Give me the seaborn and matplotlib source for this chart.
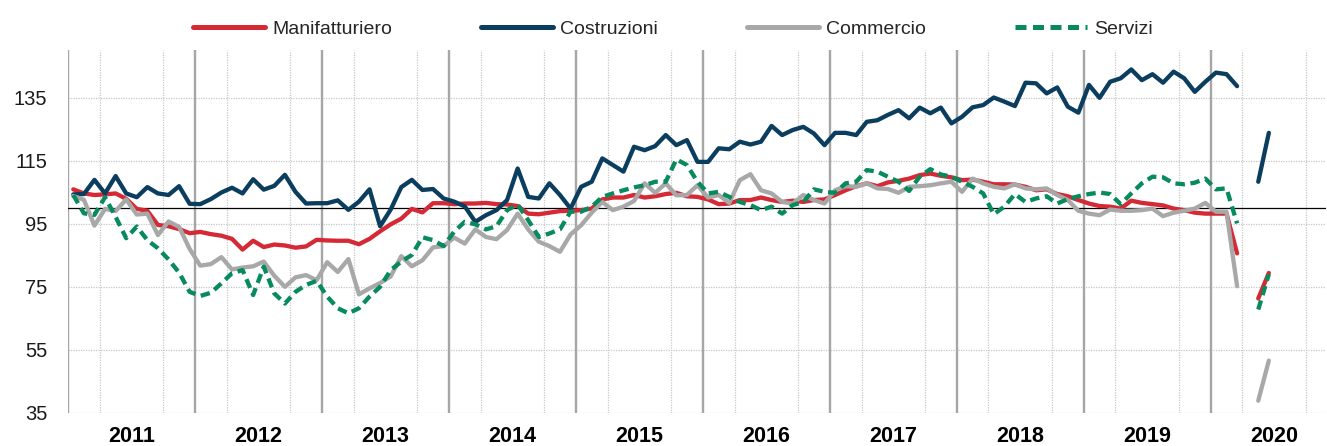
import numpy as np
import pandas as pd
import matplotlib
matplotlib.use('Agg')
import matplotlib.pyplot as plt
import seaborn as sns

sns.set_theme(style='white')
plt.rcParams['font.family'] = ['Liberation Sans', 'DejaVu Sans']

# ── Dati: indici mensili gen 2011 - mar 2020, poi mag-giu 2020 (apr 2020 mancante) ──
INIZIO = '2011-01'
FINE_SERIE = '2020-03'
MESI_2020 = ['2020-05', '2020-06']
ANNI = list(range(2011, 2021))

manifatturiero = [
    105.9, 104.6, 104.1, 104.3, 104.6, 102.9, 99.7, 99.1, 94.6, 94.2, 93.3, 92.0,
    92.4, 91.7, 91.2, 90.2, 86.8, 89.6, 87.6, 88.4, 88.1, 87.4, 87.8, 89.9,
    89.7, 89.6, 89.6, 88.5, 90.2, 92.6, 94.8, 96.6, 99.7, 98.6, 101.5, 101.5,
    101.2, 101.4, 101.4, 101.6, 101.2, 101.1, 100.6, 98.2, 98.0, 98.5, 99.0, 99.1,
    99.3, 99.8, 102.7, 103.3, 103.3, 104.1, 103.3, 103.7, 104.4, 104.8, 103.7, 103.5,
    102.7, 101.2, 101.4, 102.5, 102.5, 103.3, 102.5, 101.9, 102.3, 101.9, 102.5, 102.7,
    104.1, 105.6, 106.9, 107.8, 106.9, 108.1, 108.6, 109.3, 110.4, 110.9, 110.2, 109.7,
    108.8, 109.0, 108.3, 107.5, 107.5, 107.4, 106.7, 105.6, 105.9, 104.4, 103.7, 102.5,
    101.4, 100.6, 100.4, 99.8, 102.3, 101.6, 101.2, 100.8, 99.8, 99.3, 98.5, 98.2,
    98.2, 98.2, 85.6,
]
costruzioni = [
    104.3, 104.4, 108.9, 104.6, 110.1, 104.6, 103.4, 106.6, 104.6, 104.1, 106.9, 101.3,
    101.2, 102.8, 104.9, 106.4, 104.6, 109.1, 105.8, 107.0, 110.5, 105.1, 101.4, 101.5,
    101.5, 102.4, 99.4, 102.0, 105.9, 94.2, 99.5, 106.6, 108.9, 105.7, 106.0, 103.0,
    102.0, 100.5, 95.6, 97.7, 99.3, 102.5, 112.5, 103.5, 103.0, 107.8, 104.1, 99.8,
    106.7, 108.3, 115.7, 113.6, 111.5, 119.4, 118.3, 119.6, 123.1, 119.9, 121.5, 114.6,
    114.6, 118.9, 118.6, 121.0, 120.1, 121.0, 126.0, 123.1, 124.7, 125.7, 123.6, 119.9,
    123.8, 123.8, 123.1, 127.3, 127.8, 129.5, 131.0, 128.4, 131.8, 130.0, 131.8, 126.8,
    128.9, 131.9, 132.6, 135.0, 133.7, 132.3, 139.7, 139.5, 136.3, 138.2, 132.1, 130.2,
    139.0, 134.9, 140.0, 141.1, 143.9, 140.5, 142.4, 139.7, 143.2, 141.1, 136.8, 140.0,
    142.9, 142.4, 138.6,
]
commercio = [
    103.8, 102.6, 94.4, 99.7, 99.0, 102.7, 97.9, 98.2, 91.4, 95.7, 94.0, 87.0,
    81.7, 82.2, 84.4, 80.5, 81.1, 81.5, 83.0, 78.5, 75.0, 78.0, 78.7, 77.1,
    82.8, 79.7, 83.8, 72.6, 74.5, 76.2, 78.3, 84.7, 81.5, 83.4, 87.5, 87.9,
    90.6, 88.7, 93.2, 90.8, 90.1, 93.0, 98.2, 93.2, 89.3, 87.9, 86.1, 91.6,
    94.5, 98.5, 101.9, 99.3, 100.4, 102.2, 107.8, 104.8, 107.8, 104.0, 104.1, 107.2,
    103.3, 104.1, 101.6, 108.8, 110.7, 105.6, 104.6, 101.9, 101.4, 104.1, 102.5, 101.4,
    105.6, 106.9, 106.7, 107.8, 106.2, 106.0, 104.8, 106.7, 106.9, 107.2, 107.8, 108.3,
    105.1, 109.3, 107.8, 106.7, 106.2, 107.5, 106.2, 105.9, 106.2, 104.1, 102.5, 99.1,
    98.2, 97.7, 99.5, 99.1, 99.1, 99.3, 99.8, 97.4, 98.5, 99.1, 99.8, 101.6,
    98.8, 98.8, 75.2,
]
servizi = [
    104.1, 98.3, 97.8, 103.4, 97.2, 90.4, 94.1, 89.8, 87.2, 83.7, 79.5, 73.4,
    72.1, 73.1, 76.1, 79.3, 80.3, 72.4, 81.4, 72.9, 69.7, 73.4, 75.6, 76.9,
    71.9, 68.2, 66.6, 68.2, 71.9, 75.0, 80.3, 83.0, 85.1, 90.7, 89.8, 87.9,
    92.5, 95.6, 94.8, 93.2, 94.2, 99.3, 101.1, 96.1, 90.8, 91.9, 93.2, 98.8,
    98.8, 100.4, 103.5, 104.6, 105.6, 106.5, 107.2, 108.3, 108.3, 115.4, 113.6, 108.3,
    104.6, 105.1, 103.5, 101.9, 100.9, 99.3, 100.4, 98.2, 100.9, 101.9, 105.9, 105.1,
    104.8, 107.8, 108.3, 112.0, 111.5, 109.9, 108.3, 105.4, 109.9, 112.3, 110.6, 109.9,
    108.3, 106.7, 104.6, 98.0, 100.4, 104.4, 101.9, 103.0, 103.7, 101.4, 102.8, 103.7,
    104.4, 104.9, 104.4, 101.2, 104.6, 107.8, 109.9, 109.7, 107.8, 107.5, 108.0, 109.3,
    105.9, 106.2, 95.1,
]
# maggio, giugno 2020
manifatturiero_2020 = [71.3, 79.4]
costruzioni_2020 = [108.3, 123.8]
commercio_2020 = [38.9, 51.6]
servizi_2020 = [67.8, 79.0]

SETTORI = ['Manifatturiero', 'Costruzioni', 'Commercio', 'Servizi']
COLORI = {'Manifatturiero': '#D52A36', 'Costruzioni': '#0B3D5E',
          'Commercio': '#A8A8A8', 'Servizi': '#078A5C'}
TRATTI = {'Manifatturiero': '', 'Costruzioni': '', 'Commercio': '', 'Servizi': (2.2, 1.3)}

# ── Tabella lunga ──
inizio = pd.Period(INIZIO, 'M')
mesi = pd.period_range(INIZIO, FINE_SERIE, freq='M')
x1 = [(p - inizio).n + 0.5 for p in mesi]
x2 = [(pd.Period(m, 'M') - inizio).n + 0.5 for m in MESI_2020]

righe = []
for nome, serie, serie20 in zip(SETTORI,
                                [manifatturiero, costruzioni, commercio, servizi],
                                [manifatturiero_2020, costruzioni_2020, commercio_2020, servizi_2020]):
    for x, v in zip(x1, serie):
        righe.append({'mese': x, 'valore': v, 'settore': nome, 'tratto': 0})
    for x, v in zip(x2, serie20):
        righe.append({'mese': x, 'valore': v, 'settore': nome, 'tratto': 1})
df = pd.DataFrame(righe)

# ── Figura ──
W, H = 1327, 446
fig = plt.figure(figsize=(W / 100, H / 100), dpi=100)
ax = fig.add_axes([68 / W, 1 - 413 / H, (W - 1 - 68) / W, (413 - 50.2) / H])

sns.lineplot(data=df, x='mese', y='valore', hue='settore', style='settore',
             units='tratto', estimator=None, sort=False,
             hue_order=SETTORI, style_order=SETTORI,
             palette=COLORI, dashes=TRATTI, linewidth=3.1, ax=ax, zorder=3)

ax.set_xlim(0, (W - 1 - 68) / 10.58)
ax.set_ylim(35, 150)
for s in ax.spines.values():
    s.set_visible(False)

# griglia
ax.set_yticks([35, 55, 75, 95, 115, 135])
ax.yaxis.grid(True, which='major', color='#C8C8C8', linestyle=(0, (1, 1)), linewidth=0.9)
ax.set_xticks([12 * k + 6 for k in range(len(ANNI))], labels=[str(a) for a in ANNI])
ax.set_xticks([12 * k + q for k in range(len(ANNI)) for q in (3, 6, 9)], minor=True)
ax.xaxis.grid(True, which='minor', color='#C8C8C8', linestyle=(0, (1, 1)), linewidth=0.9)
ax.xaxis.grid(False, which='major')
for k in range(len(ANNI) + 1):
    ax.axvline(12 * k, color='#A6A6A6', linewidth=1.7, zorder=1)
ax.axhline(100, color='black', linewidth=0.9, zorder=2)

ax.tick_params(axis='y', length=0, pad=15, labelsize=14.5, labelcolor='#1a1a1a')
ax.tick_params(axis='x', which='both', length=0, pad=9)
for t in ax.get_xticklabels():
    t.set_fontsize(15.5)
    t.set_fontweight('bold')
    t.set_color('black')
ax.set_xlabel('')
ax.set_ylabel('')

sns.move_legend(ax, 'center', bbox_to_anchor=(0.481, 1.058), ncol=4, frameon=False,
                title=None, fontsize=14, handlelength=3.7, handletextpad=0.35,
                columnspacing=4.6)
for ln in ax.get_legend().get_lines():
    ln.set_linewidth(3.6)

fig.savefig('out.png', dpi=100)
